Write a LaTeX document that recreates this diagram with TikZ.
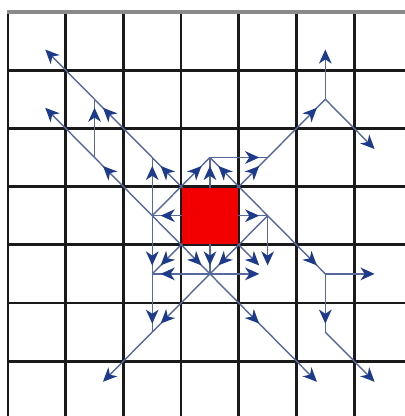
\documentclass[tikz,border=0pt]{standalone}
\usetikzlibrary{arrows.meta,decorations.markings}
\definecolor{gridcol}{HTML}{1A1A1A}
\definecolor{topcol}{HTML}{8A8A8A}
\definecolor{raycol}{HTML}{56689C}
\definecolor{headcol}{HTML}{1E3A8A}
\definecolor{srcred}{HTML}{F20000}
\tikzset{
  gridline/.style={draw=gridcol,line width=2pt},
  rayend/.style={draw=raycol,line width=1pt,-{Stealth[length=10pt,width=9pt,inset=3pt,color=headcol]},shorten >=#1},
  raymid/.style={draw=raycol,line width=1pt,postaction={decorate},
    decoration={markings,mark=at position -#1 with {\arrow{Stealth[length=10pt,width=9pt,inset=3pt,color=headcol]}}}}
}
\begin{document}
\begin{tikzpicture}[x=1.4425cm,y=-1.455cm]
\clip (-0.1386,-0.2062) rectangle (6.880,6.942);
\fill[white] (-0.1386,-0.2062) rectangle (6.880,6.942);
% grid
\foreach \i in {1,...,6} {
  \draw[gridline] (\i,0) -- (\i,7.2);
  \draw[gridline] (0,\i) -- (7.2,\i);
}
\draw[gridline] (0,0) -- (0,7.2);
\draw[draw=topcol,line width=2.4pt] (-0.02,0) -- (7.2,0);
% cell centres
\foreach \cc in {0,...,6}{\foreach \rr in {0,...,6}{\coordinate (c\cc\rr) at (\cc+0.5,\rr+0.5);}}
% first generation from the source cell
\draw[raymid=6pt] (c33) -- (c32);
\draw[raymid=6pt] (c33) -- (c34);
\draw[raymid=6pt] (c33) -- (c23);
\draw[raymid=6pt] (c33) -- (c43);
\draw[raymid=8.5pt] (c33) -- (c22);
\draw[raymid=8.5pt] (c33) -- (c42);
\draw[raymid=8.5pt] (c33) -- (c24);
\draw[rayend=8.5pt] (c33) -- (c44);
% diagonals between the axis neighbours
\draw[raymid=8.5pt] (c23) -- (c32);
\draw[raymid=8.5pt] (c43) -- (c32);
\draw[raymid=8.5pt] (c23) -- (c34);
\draw[raymid=8.5pt] (c43) -- (c34);
% axis neighbours to diagonal neighbours
\draw[raymid=6pt] (c32) -- (c42);
\draw[rayend=6pt] (c43) -- (c44);
\draw[raymid=6pt] (c34) -- (c24);
\draw[rayend=6pt] (c34) -- (c44);
\draw[raymid=6pt] (c23) -- (c22);
\draw[raymid=6pt] (c23) -- (c24);
% upper left
\draw[raymid=8.5pt] (c22) -- (c11);
\draw[rayend=8.5pt] (c11) -- (c00);
\draw[raymid=8.5pt] (c23) -- (c12);
\draw[raymid=6pt] (c12) -- (c11);
\draw[rayend=8.5pt] (c12) -- (c01);
% upper right
\draw[raymid=8.5pt] (c42) -- (c51);
\draw[rayend=6pt] (c51) -- (c50);
\draw[rayend=8.5pt] (c51) -- (c62);
% right
\draw[raymid=8.5pt] (c43) -- (c54);
\draw[rayend=6pt] (c54) -- (c64);
\draw[raymid=6pt] (c54) -- (c55);
\draw[rayend=8.5pt] (c55) -- (c66);
% lower right
\draw[raymid=8.5pt] (c34) -- (c45);
\draw[rayend=8.5pt] (c45) -- (c56);
% lower left
\draw[raymid=8.5pt] (c34) -- (c25);
\draw[rayend=8.5pt] (c25) -- (c16);
\draw[raymid=6pt] (c24) -- (c25);
% source cell
\fill[srcred] (3.024,3.024) rectangle (3.98,3.98);
\end{tikzpicture}
\end{document}
